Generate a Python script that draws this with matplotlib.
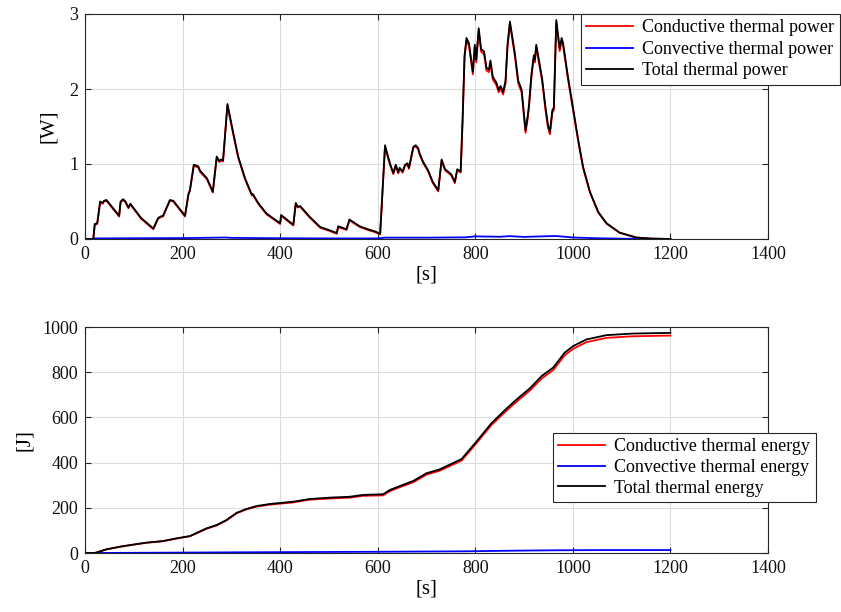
import matplotlib
matplotlib.use("Agg")
import matplotlib.pyplot as plt

# ---- thermal power [W] vs time [s] ----
t_power = ([0, 17, 20, 25, 27, 31, 36, 39, 44, 70, 73, 78, 83, 89, 93, 115, 140, 150, 155, 160,
            174, 181, 205]
           + [212, 215, 223, 232, 236, 250, 262, 270, 275, 279, 283, 292, 304, 314, 328, 342, 344,
              355, 372, 400, 402, 427, 432, 436, 441, 460, 482, 500, 516, 519, 536, 542, 563, 580,
              595, 605]
           + [615, 621, 626, 632, 637, 642, 645, 651, 656, 661, 664, 673, 678, 683, 686, 693, 703,
              713, 724, 731, 738, 744, 751, 758, 763, 770, 774, 778]
           + [782, 787, 795, 799, 802, 807, 812, 818, 823, 828, 831, 836, 843, 848, 852, 857, 862,
              866, 871, 881, 888, 895, 903, 907, 910, 915, 920, 922, 925, 929, 937, 944, 949, 953,
              958, 961, 966, 973, 977, 980]
           + [990, 1001, 1011, 1021, 1035, 1052, 1069, 1096, 1130, 1160, 1200])

total_power = ([0, 0, 0.20, 0.21, 0.30, 0.50, 0.48, 0.51, 0.52, 0.31, 0.50, 0.53, 0.50, 0.42,
                0.47, 0.28, 0.14, 0.28, 0.30, 0.31, 0.52, 0.51, 0.31]
               + [0.60, 0.65, 0.99, 0.97, 0.91, 0.81, 0.63, 1.10, 1.04, 1.06, 1.05, 1.80, 1.41,
                  1.10, 0.81, 0.59, 0.60, 0.48, 0.34, 0.21, 0.32, 0.19, 0.48, 0.43, 0.44, 0.30,
                  0.16, 0.12, 0.08, 0.17, 0.13, 0.26, 0.17, 0.13, 0.10, 0.07]
               + [1.25, 1.10, 0.99, 0.88, 0.99, 0.89, 0.95, 0.90, 0.99, 1.01, 0.95, 1.23, 1.25,
                  1.21, 1.14, 1.03, 0.92, 0.76, 0.65, 1.06, 0.93, 0.90, 0.86, 0.76, 0.93, 0.90,
                  1.60, 2.45]
               + [2.68, 2.61, 2.23, 2.59, 2.39, 2.81, 2.53, 2.50, 2.28, 2.26, 2.38, 2.16, 2.09,
                  1.99, 2.04, 1.96, 2.11, 2.59, 2.90, 2.48, 2.11, 1.99, 1.45, 1.62, 1.78, 2.19,
                  2.45, 2.39, 2.59, 2.44, 2.14, 1.75, 1.52, 1.43, 1.72, 1.75, 2.92, 2.54, 2.68,
                  2.61]
               + [2.16, 1.72, 1.32, 0.96, 0.63, 0.36, 0.21, 0.085, 0.02, 0.005, 0.0])

conductive_power = ([0, 0, 0.19, 0.20, 0.29, 0.49, 0.47, 0.50, 0.51, 0.30, 0.49, 0.52, 0.49,
                     0.41, 0.46, 0.27, 0.13, 0.27, 0.29, 0.30, 0.51, 0.50, 0.30]
                    + [0.59, 0.64, 0.975, 0.955, 0.895, 0.795, 0.62, 1.085, 1.025, 1.045, 1.035,
                       1.78, 1.39, 1.085, 0.795, 0.58, 0.59, 0.47, 0.33, 0.20, 0.31, 0.18, 0.47,
                       0.42, 0.43, 0.29, 0.15, 0.11, 0.07, 0.16, 0.12, 0.25, 0.16, 0.12, 0.09,
                       0.06]
                    + [1.235, 1.085, 0.975, 0.865, 0.975, 0.875, 0.935, 0.885, 0.975, 0.995,
                       0.935, 1.215, 1.235, 1.195, 1.125, 1.015, 0.905, 0.745, 0.635, 1.045,
                       0.915, 0.885, 0.845, 0.745, 0.915, 0.885, 1.57, 2.42]
                    + [2.645, 2.575, 2.195, 2.555, 2.355, 2.775, 2.495, 2.465, 2.245, 2.225,
                       2.345, 2.125, 2.055, 1.955, 2.005, 1.925, 2.075, 2.555, 2.865, 2.445,
                       2.075, 1.955, 1.415, 1.585, 1.745, 2.155, 2.415, 2.355, 2.555, 2.405,
                       2.105, 1.715, 1.485, 1.395, 1.685, 1.715, 2.885, 2.505, 2.645, 2.575]
                    + [2.13, 1.695, 1.30, 0.945, 0.62, 0.355, 0.205, 0.082, 0.019, 0.005, 0.0])

t_conv_p = [0, 17, 20, 100, 200, 290, 300, 400, 500, 600, 615, 700, 780, 800, 850, 870, 900,
            930, 965, 980, 1000, 1050, 1100, 1200]
convective_power = [0.000, 0.000, 0.008, 0.010, 0.012, 0.020, 0.015, 0.010, 0.008, 0.008, 0.018,
                    0.018, 0.022, 0.035, 0.030, 0.038, 0.028, 0.034, 0.040, 0.032, 0.020, 0.010,
                    0.004, 0.001]

# ---- thermal energy [J] vs time [s] ----
t_energy = [0, 20, 44, 72, 102, 126, 160, 188, 215, 249, 270, 290, 311, 331, 352, 379, 427, 461,
            502, 543, 570, 611, 625, 645, 673, 700, 727, 772, 802, 833, 861, 885, 912, 936, 960,
            983, 1001, 1028, 1069, 1123, 1200]
total_energy = [0, 0, 16, 28, 38, 46, 53, 65, 75, 109, 124, 146, 178, 195, 208, 217, 227, 239,
                245, 249, 257, 260, 279, 296, 319, 353, 370, 416, 492, 574, 633, 680, 729, 783,
                821, 886, 916, 945, 964, 971, 974]
conductive_energy = [0, 0, 16, 28, 38, 45, 52, 64, 74, 107, 122, 144, 176, 193, 205, 214, 224,
                     236, 241, 245, 253, 255, 274, 291, 313, 347, 364, 409, 485, 566, 624, 670,
                     719, 772, 810, 874, 904, 933, 952, 959, 962]
convective_energy = [0, 0, 0.3, 0.6, 0.9, 1.1, 1.4, 1.7, 2.0, 2.4, 2.6, 2.8, 3.0, 3.2, 3.4, 3.6,
                     4.0, 4.3, 4.6, 5.0, 5.2, 5.5, 5.7, 6.0, 6.3, 6.6, 6.9, 7.4, 8.0, 9.0, 9.8,
                     10.4, 11.0, 11.5, 11.9, 12.2, 12.4, 12.6, 12.8, 12.9, 13.0]

x_ticks = [0, 200, 400, 600, 800, 1000, 1200, 1400]
power_ticks = [0, 1, 2, 3]
energy_ticks = [0, 200, 400, 600, 800, 1000]

plt.rcParams["font.family"] = ["Liberation Serif", "DejaVu Serif"]
plt.rcParams["font.size"] = 13

W, H = 841, 612
fig = plt.figure(figsize=(W / 100, H / 100), dpi=100)

axis_gray = "#262626"


def box_axes(left, top, right, bottom):
    ax = fig.add_axes([left / W, 1 - bottom / H, (right - left) / W, (bottom - top) / H])
    ax.grid(True, color="#dcdcdc", linewidth=0.8)
    ax.set_axisbelow(True)
    for s in ax.spines.values():
        s.set_color(axis_gray)
        s.set_linewidth(0.8)
    ax.tick_params(direction="in", top=True, right=True, length=4, width=0.8,
                   colors=axis_gray, labelcolor="#111111", labelsize=13, pad=5)
    return ax


def matlab_legend(ax, x_px, y_px, spacing):
    leg = ax.legend(loc="upper left", bbox_to_anchor=(x_px / W, 1 - y_px / H),
                    bbox_transform=fig.transFigure, borderaxespad=0, fancybox=False,
                    edgecolor=axis_gray, framealpha=1, fontsize=13, handlelength=2.6,
                    labelspacing=spacing, borderpad=0.3, handletextpad=0.5)
    leg.get_frame().set_linewidth(0.8)
    return leg


ax1 = box_axes(85, 14, 768, 239)
ax1.plot(t_power, conductive_power, color="#ff0000", linewidth=1.3,
         label="Conductive thermal power")
ax1.plot(t_conv_p, convective_power, color="#0000ff", linewidth=1.3,
         label="Convective thermal power")
ax1.plot(t_power, total_power, color="black", linewidth=1.3,
         label="Total thermal power")
ax1.set_xlim(0, 1400)
ax1.set_ylim(0, 3)
ax1.set_xticks(x_ticks)
ax1.set_yticks(power_ticks)
ax1.set_xlabel("[s]", fontsize=15, labelpad=2)
ax1.set_ylabel("[W]", fontsize=15, labelpad=8)
matlab_legend(ax1, 581, 14, 0.25)

ax2 = box_axes(85, 327, 768, 553)
ax2.plot(t_energy, conductive_energy, color="#ff0000", linewidth=1.3,
         label="Conductive thermal energy")
ax2.plot(t_energy, convective_energy, color="#0000ff", linewidth=1.3,
         label="Convective thermal energy")
ax2.plot(t_energy, total_energy, color="black", linewidth=1.3,
         label="Total thermal energy")
ax2.set_xlim(0, 1400)
ax2.set_ylim(0, 1000)
ax2.set_xticks(x_ticks)
ax2.set_yticks(energy_ticks)
ax2.set_xlabel("[s]", fontsize=15, labelpad=2)
ax2.set_ylabel("[J]", fontsize=15, labelpad=6)
matlab_legend(ax2, 553, 433, 0.2)

fig.savefig("out.png", dpi=100)
